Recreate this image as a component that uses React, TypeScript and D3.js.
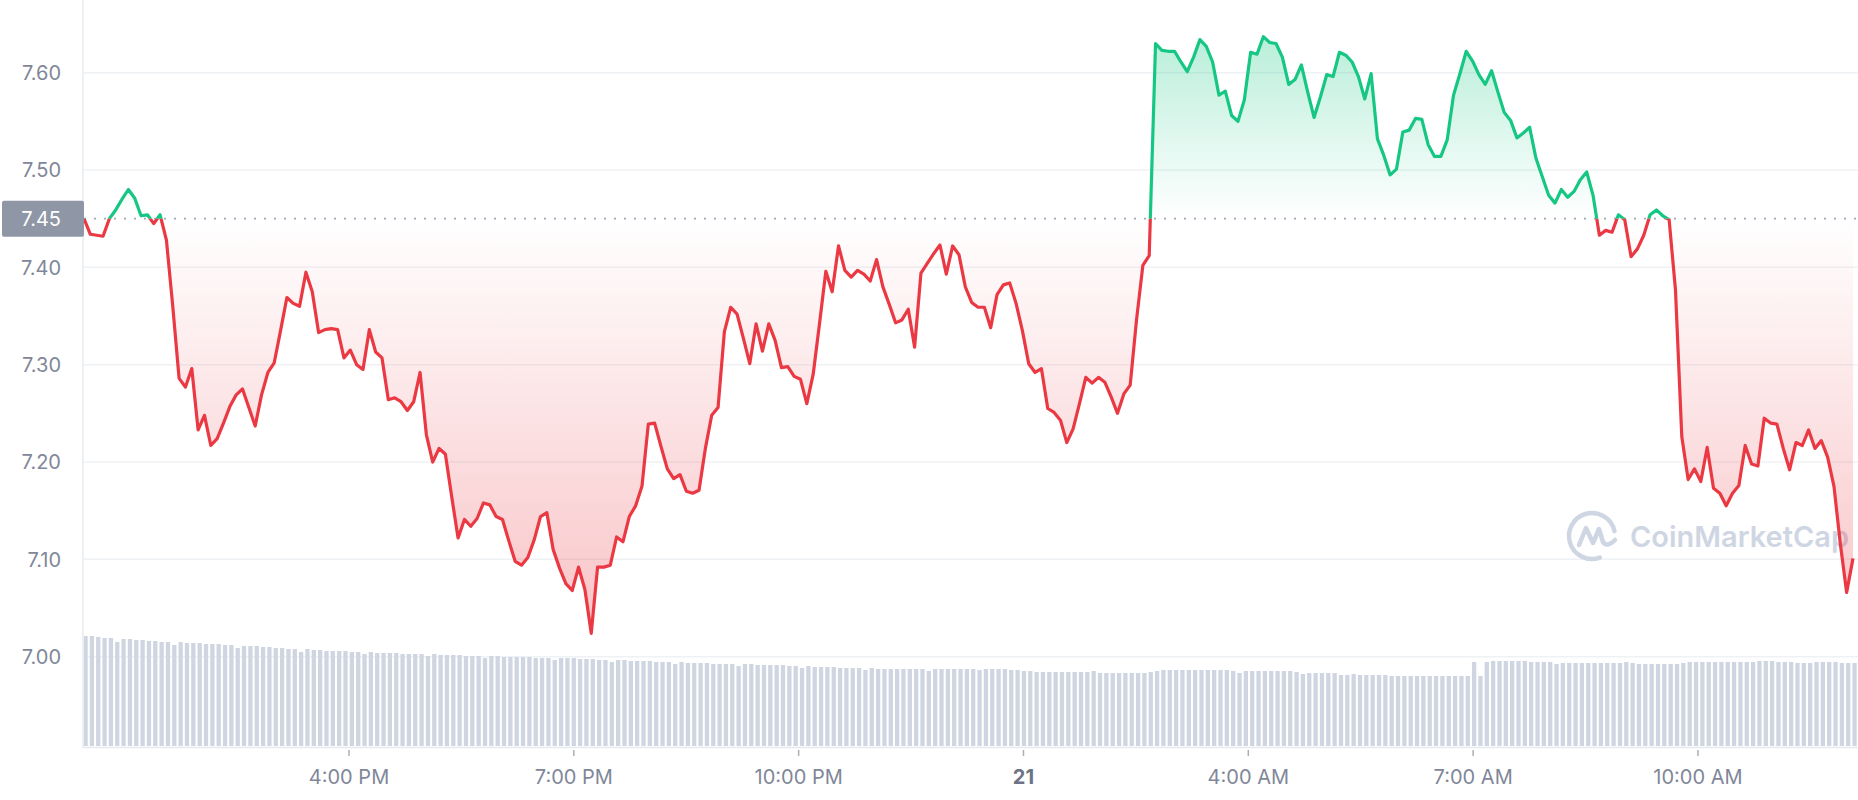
import React from "react";
import * as d3 from "d3";

const prices: number[] = [
  7.450, 7.434, 7.433, 7.432, 7.450, 7.459, 7.470, 7.480, 7.471, 7.453,
  7.454, 7.445, 7.454, 7.428, 7.360, 7.286, 7.277, 7.296, 7.233, 7.248,
  7.217, 7.224, 7.240, 7.257, 7.269, 7.275, 7.256, 7.237, 7.269, 7.292,
  7.302, 7.335, 7.369, 7.363, 7.360, 7.395, 7.375, 7.333, 7.336, 7.337,
  7.336, 7.307, 7.315, 7.300, 7.295, 7.336, 7.313, 7.307, 7.264, 7.266,
  7.262, 7.253, 7.262, 7.292, 7.228, 7.200, 7.214, 7.208, 7.164, 7.122,
  7.141, 7.134, 7.142, 7.158, 7.156, 7.144, 7.141, 7.119, 7.098, 7.094,
  7.102, 7.120, 7.144, 7.148, 7.110, 7.091, 7.075, 7.068, 7.092, 7.069,
  7.024, 7.092, 7.092, 7.094, 7.123, 7.118, 7.144, 7.155, 7.175, 7.239,
  7.240, 7.216, 7.193, 7.183, 7.187, 7.170, 7.168, 7.171, 7.214, 7.248,
  7.256, 7.334, 7.359, 7.352, 7.327, 7.301, 7.342, 7.314, 7.342, 7.325,
  7.297, 7.298, 7.288, 7.285, 7.260, 7.290, 7.342, 7.396, 7.375, 7.422,
  7.397, 7.390, 7.397, 7.393, 7.386, 7.408, 7.380, 7.362, 7.343, 7.346,
  7.357, 7.318, 7.394, 7.404, 7.414, 7.423, 7.393, 7.422, 7.413, 7.380,
  7.364, 7.359, 7.359, 7.338, 7.372, 7.382, 7.384, 7.363, 7.335, 7.301,
  7.292, 7.296, 7.255, 7.251, 7.243, 7.220, 7.234, 7.260, 7.287, 7.281,
  7.287, 7.282, 7.267, 7.250, 7.270, 7.279, 7.346, 7.402, 7.412, 7.630,
  7.623, 7.622, 7.622, 7.611, 7.601, 7.616, 7.634, 7.627, 7.611, 7.577,
  7.581, 7.556, 7.550, 7.572, 7.621, 7.619, 7.637, 7.631, 7.630, 7.616,
  7.588, 7.593, 7.608, 7.580, 7.554, 7.575, 7.598, 7.596, 7.621, 7.618,
  7.611, 7.596, 7.573, 7.599, 7.532, 7.515, 7.495, 7.501, 7.539, 7.541,
  7.553, 7.552, 7.526, 7.514, 7.514, 7.531, 7.577, 7.599, 7.622, 7.612,
  7.598, 7.588, 7.602, 7.580, 7.559, 7.551, 7.533, 7.538, 7.544, 7.512,
  7.493, 7.474, 7.466, 7.480, 7.472, 7.478, 7.490, 7.498, 7.474, 7.433,
  7.438, 7.436, 7.454, 7.449, 7.411, 7.419, 7.433, 7.454, 7.459, 7.453,
  7.449, 7.377, 7.226, 7.182, 7.193, 7.180, 7.215, 7.173, 7.168, 7.155,
  7.168, 7.176, 7.217, 7.198, 7.196, 7.245, 7.240, 7.239, 7.214, 7.192,
  7.220, 7.217, 7.233, 7.214, 7.222, 7.205, 7.175, 7.116, 7.066, 7.101,
];

const volumes: number[] = [
  110, 110, 109, 108, 108, 104, 107, 107, 106, 106,
  105, 105, 104, 104, 101, 104, 103, 103, 103, 102,
  102, 102, 101, 101, 98, 100, 100, 100, 99, 99,
  98, 98, 97, 97, 94, 97, 96, 96, 95, 95,
  95, 95, 94, 94, 92, 94, 93, 93, 93, 93,
  92, 92, 92, 92, 90, 92, 91, 91, 91, 91,
  90, 90, 90, 88, 90, 90, 89, 89, 89, 89,
  89, 88, 88, 88, 86, 88, 88, 88, 87, 87,
  87, 86, 86, 84, 86, 86, 85, 85, 85, 85,
  84, 84, 84, 82, 84, 83, 83, 83, 83, 82,
  82, 82, 82, 80, 82, 82, 81, 81, 81, 81,
  81, 80, 80, 78, 80, 79, 79, 79, 79, 78,
  78, 78, 78, 76, 78, 77, 77, 77, 77, 77,
  77, 77, 77, 75, 77, 77, 77, 77, 77, 77,
  77, 76, 77, 77, 77, 77, 76, 76, 75, 75,
  74, 74, 74, 74, 74, 74, 74, 74, 74, 75,
  73, 73, 73, 73, 73, 73, 73, 73, 74, 75,
  76, 76, 76, 76, 76, 76, 76, 76, 76, 76,
  76, 75, 73, 75, 75, 75, 75, 75, 75, 75,
  75, 74, 72, 73, 73, 73, 73, 73, 71, 71,
  72, 71, 71, 71, 71, 71, 70, 70, 70, 70,
  70, 70, 70, 70, 70, 70, 70, 70, 70, 84,
  70, 84, 85, 85, 85, 85, 85, 85, 84, 84,
  84, 84, 82, 83, 83, 83, 83, 83, 83, 83,
  83, 83, 83, 84, 83, 82, 82, 82, 82, 82,
  82, 82, 83, 84, 84, 84, 84, 84, 84, 84,
  84, 84, 84, 84, 85, 85, 85, 84, 84, 84,
  83, 83, 83, 84, 84, 84, 84, 83, 83, 83,
];

const openPrice = 7.45;
const yTicks: number[] = [7.0, 7.1, 7.2, 7.3, 7.4, 7.5, 7.6];
const xTickTimes: Date[] = [
  new Date(2023, 0, 20, 16, 0),
  new Date(2023, 0, 20, 19, 0),
  new Date(2023, 0, 20, 22, 0),
  new Date(2023, 0, 21, 1, 0),
  new Date(2023, 0, 21, 4, 0),
  new Date(2023, 0, 21, 7, 0),
  new Date(2023, 0, 21, 10, 0),
];
const xTickLabels: string[] = ["4:00 PM", "7:00 PM", "10:00 PM", "21", "4:00 AM", "7:00 AM", "10:00 AM"];
const startTime = new Date(2023, 0, 20, 12, 27, 50);
const endTime = new Date(2023, 0, 21, 12, 4, 8);

const W = 1858;
const H = 800;
const FONT = "Inter, 'Noto Sans', sans-serif";

export default function App() {
  const n = prices.length;
  const step = (endTime.getTime() - startTime.getTime()) / (n - 1);
  const data = prices.map((v, i) => ({ t: new Date(startTime.getTime() + i * step), v, vol: volumes[i] }));

  const x = d3.scaleTime().domain([startTime, endTime]).range([84, 1853]);
  const y = d3.scaleLinear().domain([7.0, 7.6]).range([656.7, 72.7]);
  const yVol = d3.scaleLinear().domain([0, 120]).range([746, 626]);
  const yBase = y(openPrice);

  const line = d3.line<any>().x((d) => x(d.t)).y((d) => y(d.v)).curve(d3.curveLinear);
  const area = d3.area<any>().x((d) => x(d.t)).y0(yBase).y1((d) => y(d.v)).curve(d3.curveLinear);
  const linePath = line(data) || "";
  const areaPath = area(data) || "";

  const maxV = d3.max(prices) as number;
  const minV = d3.min(prices) as number;

  const green = "#16c784";
  const red = "#ea3943";
  const gridColor = "#eff2f5";
  const labelColor = "#7f8799";

  const cx = 1592;
  const cy = 536;
  const r = 23;
  const ang = (deg: number) => (deg * Math.PI) / 180;
  const ringPath = `M ${cx + r * Math.cos(ang(70))} ${cy + r * Math.sin(ang(70))} A ${r} ${r} 0 1 1 ${cx + r * Math.cos(ang(-12))} ${cy + r * Math.sin(ang(-12))}`;
  const wavePath = `M ${cx - 13} ${cy + 9} L ${cx - 6} ${cy - 8} L ${cx + 1} ${cy + 7} L ${cx + 7} ${cy - 7} L ${cx + 11} ${cy + 6} Q ${cx + 15} ${cy + 12} ${cx + 23} ${cy + 4}`;

  return (
    <svg width={W} height={H} style={{ position: "absolute", left: 0, top: 0, background: "#fff" }} fontFamily={FONT}>
      <defs>
        <clipPath id="clipAbove">
          <rect x={0} y={0} width={W} height={yBase} />
        </clipPath>
        <clipPath id="clipBelow">
          <rect x={0} y={yBase} width={W} height={H - yBase} />
        </clipPath>
        <linearGradient id="gradGreen" gradientUnits="userSpaceOnUse" x1={0} x2={0} y1={y(maxV)} y2={yBase}>
          <stop offset="0%" stopColor={green} stopOpacity={0.3} />
          <stop offset="100%" stopColor={green} stopOpacity={0} />
        </linearGradient>
        <linearGradient id="gradRed" gradientUnits="userSpaceOnUse" x1={0} x2={0} y1={yBase} y2={y(minV)}>
          <stop offset="0%" stopColor={red} stopOpacity={0} />
          <stop offset="100%" stopColor={red} stopOpacity={0.3} />
        </linearGradient>
      </defs>

      {yTicks.map((t) => (
        <line key={t} x1={83} x2={W} y1={y(t)} y2={y(t)} stroke={gridColor} strokeWidth={1.5} />
      ))}

      {data.map((d, i) => (
        <rect key={i} x={x(d.t) - 0.6} y={yVol(d.vol)} width={4.3} height={yVol(0) - yVol(d.vol)} fill="#cfd6e2" />
      ))}

      <g stroke="#cfd6e3" strokeWidth={4.5} fill="none" strokeLinecap="round" strokeLinejoin="round">
        <path d={ringPath} />
        <path d={wavePath} />
      </g>
      <text x={1630} y={547} fontSize={29} fontWeight={600} fill="#cfd6e3">CoinMarketCap</text>

      <path d={areaPath} fill="url(#gradGreen)" clipPath="url(#clipAbove)" />
      <path d={areaPath} fill="url(#gradRed)" clipPath="url(#clipBelow)" />

      <line x1={84} x2={W} y1={yBase} y2={yBase} stroke="#a0a6b3" strokeWidth={1.8} strokeDasharray="2 8" />

      <path d={linePath} fill="none" stroke={green} strokeWidth={3.2} strokeLinejoin="round" clipPath="url(#clipAbove)" />
      <path d={linePath} fill="none" stroke={red} strokeWidth={3.2} strokeLinejoin="round" clipPath="url(#clipBelow)" />

      <line x1={83} x2={83} y1={0} y2={748} stroke="#eceff3" strokeWidth={2} />
      <line x1={83} x2={W} y1={747.5} y2={747.5} stroke="#e6e9ee" strokeWidth={1.5} />

      {yTicks.map((t) => (
        <text key={t} x={61} y={y(t)} dy="0.36em" textAnchor="end" fontSize={20} fill={labelColor}>
          {t.toFixed(2)}
        </text>
      ))}

      <rect x={2} y={yBase - 18} width={82} height={36} rx={2} fill="#8f96a5" />
      <text x={61} y={yBase} dy="0.36em" textAnchor="end" fontSize={20} fill="#ffffff">
        {openPrice.toFixed(2)}
      </text>

      {xTickTimes.map((t, i) => (
        <g key={i} transform={`translate(${x(t)},0)`}>
          <line x1={0} x2={0} y1={750} y2={756} stroke="#a9afbb" strokeWidth={1.5} />
          <text
            x={0}
            y={784}
            textAnchor="middle"
            fontSize={20}
            fontWeight={xTickLabels[i] === "21" ? 700 : 400}
            fill={xTickLabels[i] === "21" ? "#6b7384" : labelColor}
          >
            {xTickLabels[i]}
          </text>
        </g>
      ))}
    </svg>
  );
}
